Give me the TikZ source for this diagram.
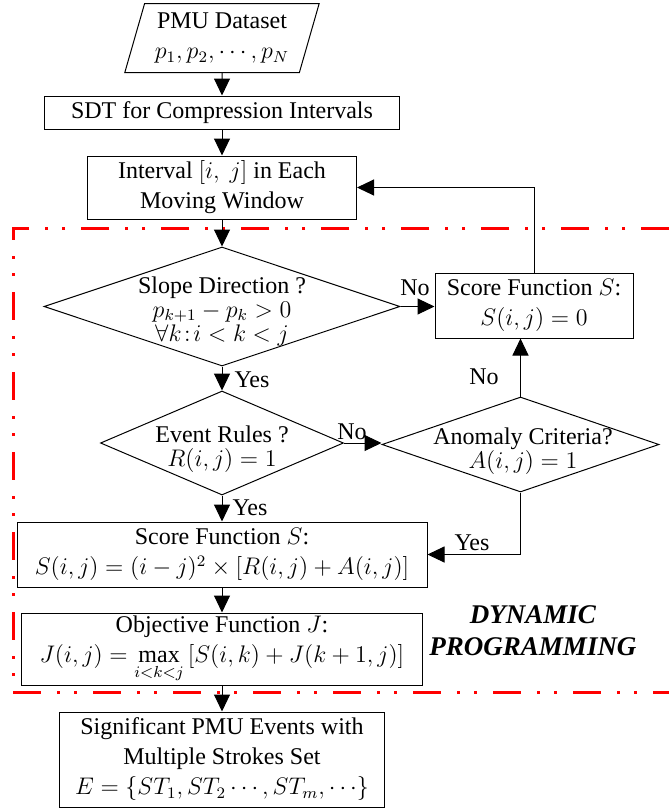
\documentclass[tikz,border=0pt]{standalone}
\usepackage{fontspec}
\setmainfont{Liberation Serif}
\usetikzlibrary{shapes.geometric, arrows.meta}

\tikzset{
  box/.style={draw, line width=0.5pt, inner sep=1pt, align=center},
  decision/.style={draw, diamond, line width=0.5pt, inner sep=0pt},
  iobox/.style={draw, trapezium, trapezium left angle=72, trapezium right angle=108,
    trapezium stretches=true, line width=0.5pt, align=center, inner sep=1pt},
  dectxt/.style={align=center, font=\fontsize{12}{12}\selectfont, inner sep=0pt},
  arrow/.style={-{Triangle[length=8.5pt,width=8pt]}, line width=0.5pt},
  lbl/.style={inner sep=0pt},
  dpline/.style={red, line width=1.5pt,
    dash pattern=on 14pt off 8pt on 1.5pt off 7pt on 1.5pt off 8pt},
}

\begin{document}
\begin{tikzpicture}[x=0.5pt, y=-0.5pt, font=\fontsize{12}{15}\selectfont]
    \useasboundingbox (0,0) rectangle (669,810);

    % dynamic programming frame
    \draw [dpline] (669,228) -- (13,228) -- (13,692) -- (669,692);
    \node[font=\fontsize{13.5}{16}\selectfont\bfseries\itshape, align=center] (dp) at (533,631) {DYNAMIC\\PROGRAMMING};

    \node[iobox, minimum width=97.5pt, minimum height=34.5pt] (data) at (222,38) {PMU Dataset\\$p_1,p_2,\cdots,p_N$};
    \node[box, minimum width=177.5pt, minimum height=16.5pt] (sdt) at (222,112.5) {SDT for Compression Intervals};
    \node[box, minimum width=134.5pt, minimum height=31.5pt] (interval) at (222,187.5) {Interval $[i,\ j]$ in Each\\Moving Window};

    \node[decision, minimum width=178pt, minimum height=59.5pt] (slope) at (222,306.5) {};
    \node[dectxt] (slopetxt) at (222,311) {Slope Direction ?\\$p_{k+1}-p_k>0$\\$\forall k\!:\!i<k<j$};
    \node[box, minimum width=99pt, minimum height=32.5pt] (score0) at (534,305.5) {Score Function $S$:\\$S(i,j)=0$};

    \node[decision, minimum width=121.5pt, minimum height=52pt] (event) at (222,443) {};
    \node[dectxt] (eventtxt) at (222,449.5) {Event Rules ?\\$R(i,j)=1$};
    \node[decision, minimum width=138.5pt, minimum height=47.5pt] (anomaly) at (520.5,444.5) {};
    \node[dectxt] (anomalytxt) at (523,451.5) {Anomaly Criteria?\\$A(i,j)=1$};

    \node[box, minimum width=205pt, minimum height=32.5pt] (score1) at (222,554.5) {Score Function $S$:\\$S(i,j)=(i-j)^2\times[R(i,j)+A(i,j)]$};
    \node[box, minimum width=200.5pt, minimum height=36pt] (objective) at (222,649) {Objective Function $J$:\\$J(i,j)=\max\limits_{i<k<j}\,[S(i,k)+J(k+1,j)]$};
    \node[box, minimum width=162.5pt, minimum height=47.5pt] (final) at (222,759.5) {Significant PMU Events with\\Multiple Strokes Set\\$E=\{ST_1,ST_2\cdots,ST_m,\cdots\}$};

    \node[lbl] (no1) at (415,288) {No};
    \node[lbl] (yes1) at (252,380) {Yes};
    \node[lbl] (no2) at (352,432) {No};
    \node[lbl] (no3) at (484,377) {No};
    \node[lbl] (yes2) at (250,508) {Yes};
    \node[lbl] (yes3) at (472,543) {Yes};

    \draw [arrow] (data) -- (sdt);
    \draw [arrow] (sdt) -- (interval);
    \draw [arrow] (interval) -- (slope);
    \draw [arrow] (slope.east) -- (slope.east -| score0.west);
    \draw [arrow] (score0.north) |- (interval.east);
    \draw [arrow] (slope) -- (event);
    \draw [arrow] (event.east) -- (event.east -| anomaly.west);
    \draw [arrow] (anomaly.north) -- (anomaly.north |- score0.south);
    \draw [arrow] (anomaly.south) |- (score1.east);
    \draw [arrow] (event) -- (score1);
    \draw [arrow] (score1) -- (objective);
    \draw [arrow] (objective) -- (final);
\end{tikzpicture}
\end{document}
